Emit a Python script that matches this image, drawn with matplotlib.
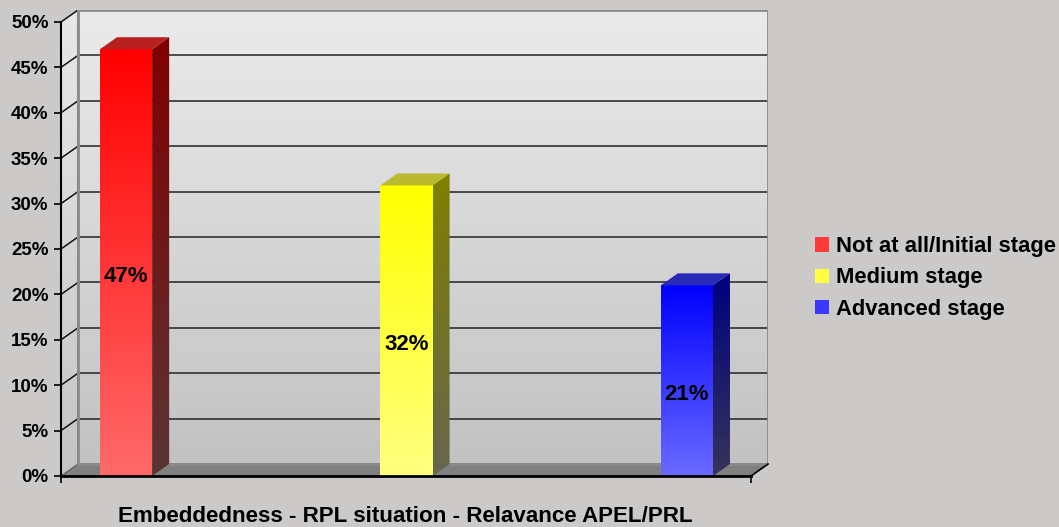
import numpy as np
import matplotlib.pyplot as plt
from matplotlib.patches import Polygon, Patch
from matplotlib.colors import to_rgb

plt.rcParams['font.family'] = ['Liberation Sans', 'DejaVu Sans']
plt.rcParams['font.weight'] = 'bold'

# data
stages = ["Not at all/Initial stage", "Medium stage", "Advanced stage"]
shares = [47, 32, 21]
share_labels = ["47%", "32%", "21%"]
y_ticks = [0, 5, 10, 15, 20, 25, 30, 35, 40, 45, 50]
y_tick_labels = ["0%", "5%", "10%", "15%", "20%", "25%", "30%", "35%", "40%", "45%", "50%"]
x_title = "Embeddedness - RPL situation - Relavance APEL/PRL"

# colours: front face (top, bottom), side face (top, bottom), lid
front_cols = [("#ff0000", "#ff6a6a"), ("#ffff00", "#ffff80"), ("#0000ff", "#6a6aff")]
side_cols = [("#800000", "#5a3535"), ("#808000", "#666650"), ("#000080", "#35355a")]
lid_cols = ["#b82020", "#baba30", "#2a2ab8"]
legend_cols = ["#ff3a3a", "#ffff40", "#3a3aff"]

bg = "#cccac8"
bar_w = 0.186
dx, dy = 0.0607, 1.32     # depth offset of the 3d box
x_left, x_front_right = -0.232, 2.2286
y_max = 50

fig = plt.figure(figsize=(10.59, 5.27), dpi=100, facecolor=bg)
ax = fig.add_axes([61 / 1059, (527 - 476) / 527, (768 - 61) / 1059, 466 / 527])
ax.set_facecolor("none")


def grad_poly(verts, top, bottom, z):
    verts = np.array(verts, dtype=float)
    c = np.linspace(0, 1, 256)[:, None, None]
    t, b = np.array(to_rgb(top)), np.array(to_rgb(bottom))
    img = t + (b - t) * c
    im = ax.imshow(img, extent=(verts[:, 0].min(), verts[:, 0].max(),
                                verts[:, 1].min(), verts[:, 1].max()),
                   origin="upper", aspect="auto", zorder=z, interpolation="bilinear")
    poly = Polygon(verts, closed=True, transform=ax.transData, fc="none", ec="none")
    im.set_clip_path(poly)
    return im


# walls
back = [(x_left + dx, dy), (x_front_right + dx, dy), (x_front_right + dx, y_max + dy), (x_left + dx, y_max + dy)]
grad_poly(back, "#ebebeb", "#c2c2c2", 0)
side = [(x_left, 0), (x_left + dx, dy), (x_left + dx, y_max + dy), (x_left, y_max)]
grad_poly(side, "#e8e8e8", "#c4c4c4", 0)
floor = [(x_left, 0), (x_front_right, 0), (x_front_right + dx, dy), (x_left + dx, dy)]
ax.add_patch(Polygon(floor, closed=True, fc="#808080", ec="#5a5a5a", lw=0.8, zorder=1))

# grid lines on back and side wall
for t in y_ticks[1:-1]:
    ax.plot([x_left + dx, x_front_right + dx], [t + dy, t + dy], color="#222222", lw=1.1, zorder=1)
for t in y_ticks[1:]:
    ax.plot([x_left, x_left + dx], [t, t + dy], color="#111111", lw=1.1, zorder=1)
ax.add_patch(Polygon(back, closed=True, fc="none", ec="#8a8a8a", lw=2, zorder=1))
ax.plot([x_left + dx, x_left + dx], [dy, y_max + dy], color="#8a8a8a", lw=1.5, zorder=1)

# bars
for i, v in enumerate(shares):
    x0, x1 = i - bar_w / 2, i + bar_w / 2
    grad_poly([(x0, 0), (x1, 0), (x1, v), (x0, v)], *front_cols[i], 3)
    grad_poly([(x1, 0), (x1 + dx, dy), (x1 + dx, v + dy), (x1, v)], *side_cols[i], 3)
    ax.add_patch(Polygon([(x0, v), (x1, v), (x1 + dx, v + dy), (x0 + dx, v + dy)],
                         closed=True, fc=lid_cols[i], ec="none", zorder=3))
    ax.text(i, v / 2 - 1.5, share_labels[i], ha="center", va="center",
            fontsize=16, fontweight="bold", color="black", zorder=5)

ax.set_xlim(x_left, x_front_right + dx)
ax.set_ylim(0, y_max + dy)

for s in ["top", "right"]:
    ax.spines[s].set_visible(False)
ax.spines["left"].set_bounds(0, y_max)
ax.spines["left"].set_linewidth(1.5)
ax.spines["bottom"].set_bounds(x_left, x_front_right)
ax.spines["bottom"].set_linewidth(2)
ax.spines["left"].set_zorder(6)
ax.spines["bottom"].set_zorder(6)
ax.plot([x_front_right, x_front_right + dx], [0, dy], color="black", lw=1.2, zorder=6, clip_on=False)

ax.set_yticks(y_ticks)
ax.set_yticklabels(y_tick_labels, fontsize=13.5, fontweight="bold")
ax.tick_params(axis="y", length=5, width=1.2, pad=4)
ax.set_xticks([x_left, x_front_right])
ax.set_xticklabels([])
ax.tick_params(axis="x", length=5, width=1.2)
ax.set_xlabel(x_title, fontsize=16.1, fontweight="bold", va="center")
ax.xaxis.set_label_coords((405.5 - 61) / 707, -40 / 466)

handles = [Patch(facecolor=c, edgecolor="none") for c in legend_cols]
fig.legend(handles, stages, loc="center left", bbox_to_anchor=(815 / 1059, 1 - 278 / 527),
           frameon=False, prop={"weight": "bold", "size": 15.8},
           handlelength=0.64, handleheight=0.64, handletextpad=0.32,
           labelspacing=0.47, borderpad=0, borderaxespad=0)

fig.savefig("out.png", dpi=100, facecolor=bg)
